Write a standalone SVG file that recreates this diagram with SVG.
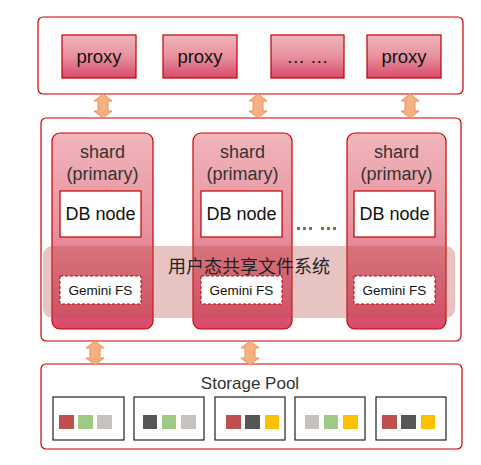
<svg xmlns="http://www.w3.org/2000/svg" xmlns:xlink="http://www.w3.org/1999/xlink" width="481" height="465" viewBox="0 0 481 465">
<defs>
<linearGradient id="gp" x1="0" y1="0" x2="0" y2="1">
<stop offset="0" stop-color="#f0b5bb"/>
<stop offset="0.5" stop-color="#e8919e"/>
<stop offset="1" stop-color="#d9496b"/>
</linearGradient>
<path id="arr" d="M0,-12 L9,-5 L5,-5 L5,5 L9,5 L0,12 L-9,5 L-5,5 L-5,-5 L-9,-5 Z"/>
<style>
.outer{fill:#fff;stroke:#cc0000;stroke-width:1.2}
.proxy{fill:url(#gp);stroke:#c00000;stroke-width:1.2}
.shard{fill:url(#gp);stroke:#cc0000;stroke-width:1.2}
.db{fill:#fff;stroke:#c00000;stroke-width:1.2}
.gfs{fill:#fff;stroke:#c00000;stroke-width:1;stroke-dasharray:3,2}
.band{fill:#b9534f;fill-opacity:0.35}
.arrow{fill:#f5b183;stroke:#ee9050;stroke-width:1}
.sb{fill:#fff;stroke:#222;stroke-width:1.2}
.t{font-family:"Liberation Sans",Arial,sans-serif;text-anchor:middle}
.tp{font-size:18.5px;fill:#111}
.ts{font-size:18px;fill:#333}
.tdb{font-size:18px;fill:#111}
.tg{font-size:13.5px;fill:#111}
.tc{font-family:"Noto Sans CJK SC","Liberation Sans",sans-serif;font-size:18px;fill:#222;text-anchor:middle}
.tsp{font-size:17px;fill:#333}
.r{fill:#c0504d}.g{fill:#9dcb86}.l{fill:#c5c2bf}.d{fill:#575555}.y{fill:#ffc000}
.dot{fill:#5a8a3a}
</style>
</defs>

<g id="proxy-layer">
<rect class="outer" x="38" y="17" width="425" height="77" rx="5"/>
</g>
<g id="proxy1"><rect class="proxy" x="62" y="35" width="74" height="43"/><text class="t tp" x="99" y="63">proxy</text></g>
<g id="proxy2"><rect class="proxy" x="163" y="35" width="74" height="43"/><text class="t tp" x="200" y="63">proxy</text></g>
<g id="proxy3"><rect class="proxy" x="271" y="35" width="73" height="43"/><text class="t tp" x="307.5" y="63">… …</text></g>
<g id="proxy4"><rect class="proxy" x="367" y="35" width="74" height="43"/><text class="t tp" x="404" y="63">proxy</text></g>

<g id="shard-layer">
<rect class="outer" x="41" y="118" width="420" height="223" rx="5"/>
</g>

<g id="shard1">
<rect class="shard" x="52" y="133" width="101" height="196" rx="8"/>
<text class="t ts" x="102.5" y="158">shard</text>
<text class="t ts" x="102.5" y="180">(primary)</text>
<rect class="db" x="60" y="191" width="81" height="46"/>
<text class="t tdb" x="100.5" y="220">DB node</text>
</g>
<g id="shard2">
<rect class="shard" x="193" y="133" width="99" height="196" rx="8"/>
<text class="t ts" x="242.5" y="158">shard</text>
<text class="t ts" x="242.5" y="180">(primary)</text>
<rect class="db" x="201" y="191" width="81" height="46"/>
<text class="t tdb" x="241.5" y="220">DB node</text>
</g>
<g id="shard3">
<rect class="shard" x="347" y="133" width="99" height="196" rx="8"/>
<text class="t ts" x="396.5" y="158">shard</text>
<text class="t ts" x="396.5" y="180">(primary)</text>
<rect class="db" x="354" y="191" width="81" height="46"/>
<text class="t tdb" x="394.5" y="220">DB node</text>
</g>

<g id="ellipsis">
<rect class="dot" x="297" y="227" width="3" height="3"/>
<rect class="dot" x="303" y="227" width="3" height="3"/>
<rect class="dot" x="309" y="227" width="3" height="3"/>
<rect class="dot" x="321" y="227" width="3" height="3"/>
<rect class="dot" x="327" y="227" width="3" height="3"/>
<rect class="dot" x="333" y="227" width="3" height="3"/>
</g>

<g id="shared-fs">
<rect class="band" x="43" y="246" width="412" height="72" rx="9"/>
<text class="tc" x="249" y="273">用户态共享文件系统</text>
</g>

<g id="gemini1"><rect class="gfs" x="60" y="276" width="81" height="28"/><text class="t tg" x="100.5" y="295">Gemini FS</text></g>
<g id="gemini2"><rect class="gfs" x="201" y="276" width="81" height="28"/><text class="t tg" x="241.5" y="295">Gemini FS</text></g>
<g id="gemini3"><rect class="gfs" x="354" y="276" width="81" height="28"/><text class="t tg" x="394.5" y="295">Gemini FS</text></g>

<g id="storage-pool">
<rect class="outer" x="41" y="364" width="421" height="85" rx="5"/>
<text class="t tsp" x="250" y="389">Storage Pool</text>
</g>
<g id="disk1"><rect class="sb" x="53" y="397" width="71" height="43"/><rect class="r" x="59" y="415" width="15" height="14"/><rect class="g" x="78" y="415" width="15" height="14"/><rect class="l" x="97" y="415" width="15" height="14"/></g>
<g id="disk2"><rect class="sb" x="134" y="397" width="70" height="43"/><rect class="d" x="143" y="415" width="14" height="14"/><rect class="g" x="162" y="415" width="14" height="14"/><rect class="l" x="181" y="415" width="15" height="14"/></g>
<g id="disk3"><rect class="sb" x="215" y="397" width="70" height="43"/><rect class="r" x="226" y="415" width="15" height="14"/><rect class="d" x="245" y="415" width="15" height="14"/><rect class="y" x="265" y="415" width="14" height="14"/></g>
<g id="disk4"><rect class="sb" x="295" y="397" width="70" height="43"/><rect class="l" x="305" y="415" width="14" height="14"/><rect class="g" x="324" y="415" width="14" height="14"/><rect class="y" x="343" y="415" width="15" height="14"/></g>
<g id="disk5"><rect class="sb" x="376" y="397" width="70" height="43"/><rect class="r" x="382" y="415" width="15" height="14"/><rect class="d" x="401" y="415" width="15" height="14"/><rect class="y" x="421" y="415" width="14" height="14"/></g>

<g id="connectors">
<use xlink:href="#arr" class="arrow" x="103" y="106"/>
<use xlink:href="#arr" class="arrow" x="258" y="106"/>
<use xlink:href="#arr" class="arrow" x="410" y="106"/>
<use xlink:href="#arr" class="arrow" x="95" y="353"/>
<use xlink:href="#arr" class="arrow" x="250" y="353"/>
</g>
</svg>
